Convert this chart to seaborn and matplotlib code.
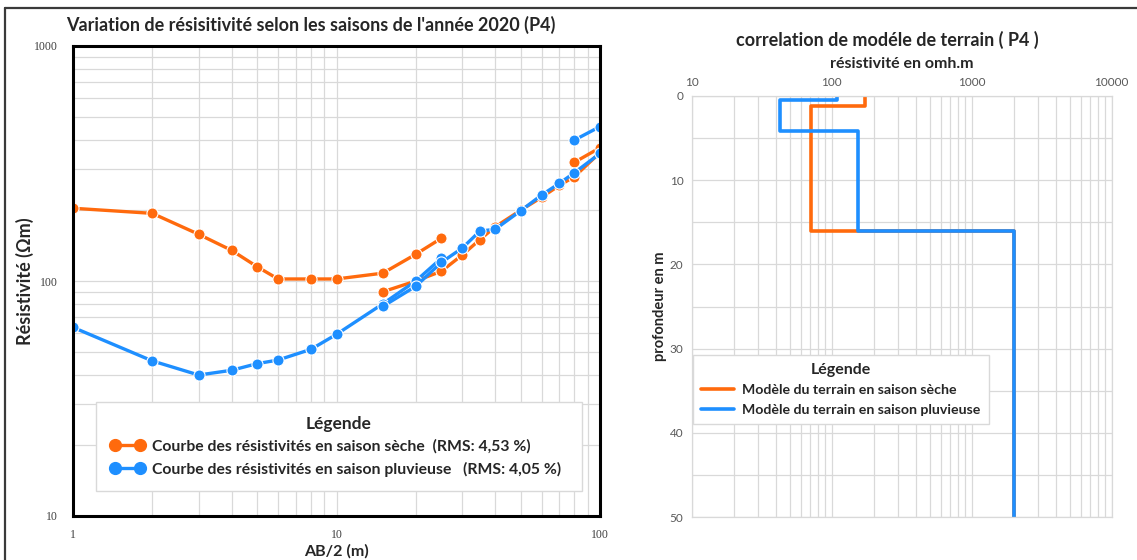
import numpy as np
import pandas as pd
import matplotlib
matplotlib.use("Agg")
import matplotlib.pyplot as plt
from matplotlib.lines import Line2D
from matplotlib.ticker import FixedLocator, NullFormatter, FuncFormatter
import seaborn as sns

# Apparent resistivity sounding curves (AB/2 in m, resistivity in ohm.m), one list per spread segment
ab2_dry_1 = [1, 2, 3, 4, 5, 6, 8, 10, 15, 20, 25]
rho_dry_1 = [204, 194, 158, 135, 115, 102, 102, 102, 108, 130, 152]
ab2_dry_2 = [15, 20, 25, 30, 35, 40, 50, 60, 70, 80, 100]
rho_dry_2 = [90, 100, 110, 129, 150, 170, 200, 227, 255, 278, 352]
ab2_dry_3 = [80, 100]
rho_dry_3 = [320, 369]

ab2_wet_1 = [1, 2, 3, 4, 5, 6, 8, 10, 15, 20, 25]
rho_wet_1 = [63.5, 45.7, 39.8, 41.7, 44.5, 46.1, 51.2, 59.3, 80, 100, 125]
ab2_wet_2 = [15, 20, 25, 30, 35, 40, 50, 60, 70, 80, 100]
rho_wet_2 = [78, 95, 120, 138, 163, 166, 199, 232, 260, 289, 349]
ab2_wet_3 = [80, 100]
rho_wet_3 = [398, 454]

# Layered ground models: layer resistivities and interface depths (m)
rho_model_dry = [173, 71, 2000]
depth_model_dry = [0, 1.2, 16, 50]
rho_model_wet = [110, 43, 155, 2000]
depth_model_wet = [0, 0.5, 4.2, 16, 50]

label_dry = "Courbe des résistivités en saison sèche  (RMS: 4,53 %)"
label_wet = "Courbe des résistivités en saison pluvieuse   (RMS: 4,05 %)"
label_model_dry = "Modèle du terrain en saison sèche"
label_model_wet = "Modèle du terrain en saison pluvieuse"

ORANGE = "#FF6A0D"
BLUE = "#1E8FFF"
GRID = "#d9d9d9"

sns.set_style("white")
plt.rcParams["font.family"] = ["Lato", "DejaVu Sans"]

# Long-form tables
rows = []
for season, segs in (("sec", [(ab2_dry_1, rho_dry_1), (ab2_dry_2, rho_dry_2), (ab2_dry_3, rho_dry_3)]),
                     ("pluie", [(ab2_wet_1, rho_wet_1), (ab2_wet_2, rho_wet_2), (ab2_wet_3, rho_wet_3)])):
    for k, (xs, ys) in enumerate(segs):
        for x, y in zip(xs, ys):
            rows.append({"AB2": x, "rho": y, "saison": season, "segment": f"{season}-{k}"})
curves = pd.DataFrame(rows)


def step_profile(rhos, depths):
    xs, ys = [], []
    for i, r in enumerate(rhos):
        xs += [r, r]
        ys += [depths[i], depths[i + 1]]
    return xs, ys


mrows = []
for season, (rh, dp) in (("sec", (rho_model_dry, depth_model_dry)), ("pluie", (rho_model_wet, depth_model_wet))):
    xs, ys = step_profile(rh, dp)
    for i, (x, y) in enumerate(zip(xs, ys)):
        mrows.append({"rho": x, "depth": y, "saison": season, "order": i})
models = pd.DataFrame(mrows)

fig = plt.figure(figsize=(11.37, 5.6), dpi=100)

# ---------------- Left panel: sounding curves ----------------
ax = fig.add_axes([73 / 1137, 1 - 516 / 560, 527 / 1137, 470 / 560])
ax.set_xscale("log")
ax.set_yscale("log")
sns.lineplot(data=curves, x="AB2", y="rho", hue="saison", units="segment", estimator=None, sort=False,
             palette={"sec": ORANGE, "pluie": BLUE}, hue_order=["sec", "pluie"],
             marker="o", markersize=8, markeredgecolor="white", markeredgewidth=0.8,
             linewidth=2.4, legend=False, ax=ax)
ax.set_xlim(1, 100)
ax.set_ylim(10, 1000)
minor = [m * 10 ** e for e in range(0, 3) for m in range(2, 10)]
ax.xaxis.set_major_locator(FixedLocator([1, 10, 100]))
ax.yaxis.set_major_locator(FixedLocator([10, 100, 1000]))
ax.xaxis.set_minor_locator(FixedLocator([m for m in minor if m < 100]))
ax.yaxis.set_minor_locator(FixedLocator([m for m in minor if 10 < m < 1000]))
fmt = FuncFormatter(lambda v, p: f"{v:g}")
ax.xaxis.set_major_formatter(fmt)
ax.yaxis.set_major_formatter(fmt)
ax.xaxis.set_minor_formatter(NullFormatter())
ax.yaxis.set_minor_formatter(NullFormatter())
ax.grid(which="both", color=GRID, linewidth=0.9)
ax.set_axisbelow(True)
for s in ax.spines.values():
    s.set_color("black")
    s.set_linewidth(2.2)
ax.tick_params(which="major", length=5, width=0.8, color="#888888", pad=6)
ax.tick_params(axis="x", which="major", pad=4)
ax.tick_params(which="minor", length=0)
for lab in ax.get_xticklabels() + ax.get_yticklabels():
    lab.set_family("Liberation Serif")
    lab.set_fontsize(8.5)
    lab.set_color("#404040")
ax.set_xlabel("AB/2 (m)", fontsize=11.5, fontweight="bold", va="center")
ax.xaxis.set_label_coords(0.5, (516 - 551) / 470)
ax.set_ylabel("Résistivité (Ωm)", fontsize=13, fontweight="bold", va="center")
ax.yaxis.set_label_coords((25 - 73) / 527, 0.5)

handles = [Line2D([], [], color=ORANGE, lw=2.4, marker="o", markersize=8.5, markeredgecolor=ORANGE),
           Line2D([], [], color=BLUE, lw=2.4, marker="o", markersize=8.5, markeredgecolor=BLUE)]
leg = ax.legend(handles, [label_dry, label_wet], title="Légende", loc="lower left",
                bbox_to_anchor=(23 / 527, 25 / 470, 486 / 527, 93 / 470), mode="expand",
                borderaxespad=0,
                prop={"size": 11.3, "weight": "bold"}, title_fontproperties={"size": 12.5, "weight": "bold"},
                frameon=True, fancybox=False, edgecolor=GRID, framealpha=1,
                handlelength=2.2, numpoints=2, borderpad=0.9, labelspacing=0.5, handletextpad=0.5)
leg.get_frame().set_linewidth(1.0)

fig.text(311 / 1137, 1 - 25 / 560, "Variation de résisitivité selon les saisons de l'année 2020 (P4)",
         ha="center", va="center", fontsize=13, fontweight="bold")

# ---------------- Right panel: layered models ----------------
ax2 = fig.add_axes([691.7 / 1137, 1 - 517 / 560, 420 / 1137, 421 / 560])
ax2.set_xscale("log")
sns.lineplot(data=models, x="rho", y="depth", hue="saison", units="saison", estimator=None, sort=False,
             palette={"sec": ORANGE, "pluie": BLUE}, hue_order=["sec", "pluie"],
             linewidth=2.6, legend=False, ax=ax2)
ax2.set_xlim(10, 10000)
ax2.set_ylim(50, 0)
ax2.xaxis.tick_top()
ax2.xaxis.set_label_position("top")
ax2.xaxis.set_major_locator(FixedLocator([10, 100, 1000, 10000]))
ax2.xaxis.set_minor_locator(FixedLocator([m * 10 ** e for e in range(1, 4) for m in range(2, 10)]))
ax2.xaxis.set_major_formatter(fmt)
ax2.xaxis.set_minor_formatter(NullFormatter())
ax2.yaxis.set_major_locator(FixedLocator([0, 10, 20, 30, 40, 50]))
ax2.yaxis.set_minor_locator(FixedLocator([5, 15, 25, 35, 45]))
ax2.yaxis.set_minor_formatter(NullFormatter())
ax2.grid(which="both", color=GRID, linewidth=0.9)
ax2.set_axisbelow(True)
for s in ax2.spines.values():
    s.set_color(GRID)
    s.set_linewidth(0.9)
ax2.tick_params(which="both", length=0, pad=6, labelsize=8.5, labelcolor="#595959")
ax2.set_xlabel("résistivité en omh.m", fontsize=11.5, fontweight="bold", va="center")
ax2.xaxis.set_label_coords(0.5, 1 + (96 - 64) / 421)
ax2.set_ylabel("profondeur en m", fontsize=10.5, fontweight="bold", va="center")
ax2.yaxis.set_label_coords((660 - 691.7) / 420, 0.5)

mhandles = [Line2D([], [], color=ORANGE, lw=2.6), Line2D([], [], color=BLUE, lw=2.6)]
leg2 = ax2.legend(mhandles, [label_model_dry, label_model_wet], title="Légende", loc="lower left",
                  bbox_to_anchor=(0.0024, (517 - 424) / 421), borderaxespad=0,
                  prop={"size": 10.2, "weight": "bold"},
                  title_fontproperties={"size": 11.5, "weight": "bold"},
                  frameon=True, fancybox=False, edgecolor=GRID, framealpha=1,
                  handlelength=2.3, borderpad=0.6, labelspacing=0.5, handletextpad=0.6)
leg2.get_frame().set_linewidth(1.0)

fig.text(887 / 1137, 1 - 40 / 560, "correlation de modéle de terrain ( P4 )",
         ha="center", va="center", fontsize=13, fontweight="bold")

# Outer frame (top and left edges)
fig.add_artist(Line2D([5 / 1137, 1], [1 - 8 / 560, 1 - 8 / 560], transform=fig.transFigure,
                      color="#3a3a3a", lw=1.6))
fig.add_artist(Line2D([5 / 1137, 5 / 1137], [0, 1 - 8 / 560], transform=fig.transFigure,
                      color="#3a3a3a", lw=1.6))

fig.savefig("out.png", dpi=100, facecolor="white")
